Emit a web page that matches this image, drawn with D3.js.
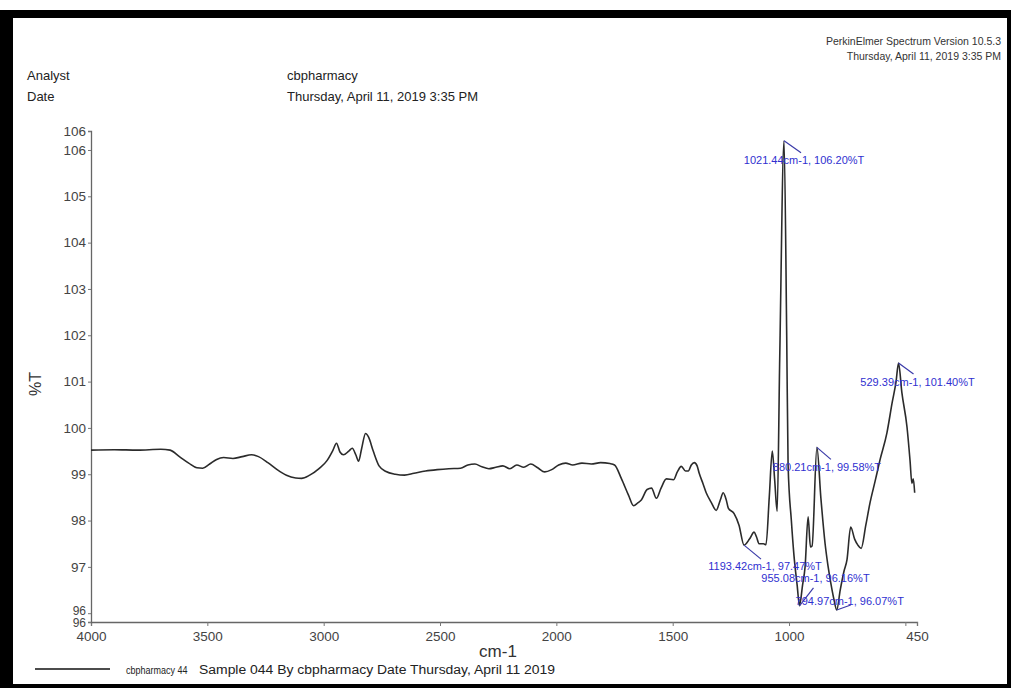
<!DOCTYPE html>
<html>
<head>
<meta charset="utf-8">
<script src="https://d3js.org/d3.v7.min.js"></script>
<style>
	body { margin: 0; background: #fff; }
	svg { display: block; font-family: "Liberation Sans", Arial, sans-serif; }
</style>
</head>
<body>
<script>

// Spectrum: wavenumber (cm-1) and transmittance (%T)
var wavenumbers = [4000, 3900, 3800, 3700, 3660, 3620, 3580, 3545, 3520, 3490, 3460, 3430, 3390, 3350, 3310, 3280,
	3240, 3200, 3160, 3120, 3095, 3060, 3020, 2985, 2960, 2945, 2930, 2915, 2892, 2877, 2862, 2850, 2837, 2820, 2807,
	2787, 2762, 2732, 2692, 2652, 2612, 2562, 2512, 2462, 2412, 2380, 2350, 2320, 2290, 2260, 2230, 2200, 2170, 2140,
	2110, 2080, 2050, 2020, 1990, 1960, 1930, 1890, 1850, 1810, 1770, 1750, 1720, 1690, 1668, 1650, 1634, 1610, 1591,
	1570, 1550, 1527, 1497, 1480, 1463, 1445, 1433, 1420, 1407, 1395, 1386, 1370, 1356, 1335, 1313, 1295, 1283, 1270,
	1261, 1236, 1215, 1193.42, 1170, 1150, 1140, 1129, 1110, 1099, 1085, 1072, 1062, 1051, 1040, 1021.44, 1010, 1004,
	990, 979, 965, 955.08, 942, 931, 918, 908, 901, 880.21, 863, 845, 833, 815, 807, 794.97, 780, 764, 751, 735, 718,
	704, 690, 670, 652, 630, 609, 579, 557, 540, 529.39, 515, 493, 480, 472, 466, 460];
var transmittance = [99.52, 99.53, 99.52, 99.54, 99.52, 99.38, 99.24, 99.14, 99.13, 99.22, 99.32, 99.36, 99.34, 99.38,
	99.42, 99.38, 99.25, 99.1, 98.98, 98.92, 98.91, 98.98, 99.12, 99.3, 99.52, 99.67, 99.48, 99.42, 99.5, 99.56, 99.42,
	99.28, 99.55, 99.88, 99.8, 99.5, 99.18, 99.06, 99.0, 98.98, 99.02, 99.07, 99.1, 99.12, 99.13, 99.2, 99.22, 99.16,
	99.12, 99.15, 99.18, 99.12, 99.2, 99.15, 99.22, 99.14, 99.05, 99.1, 99.2, 99.24, 99.2, 99.24, 99.22, 99.25, 99.23,
	99.2, 98.9, 98.55, 98.32, 98.38, 98.45, 98.67, 98.7, 98.48, 98.7, 98.9, 98.88, 99.05, 99.17, 99.07, 99.07, 99.2,
	99.25, 99.18, 99.02, 98.8, 98.6, 98.4, 98.22, 98.45, 98.6, 98.45, 98.27, 98.15, 97.9, 97.47, 97.6, 97.75, 97.65,
	97.5, 97.5, 97.48, 98.5, 99.5, 98.9, 98.2, 101.5, 106.2, 102.0, 99.2, 98.0, 97.26, 96.6, 96.16, 96.6, 97.0, 98.08,
	97.43, 97.45, 99.58, 98.48, 97.5, 97.04, 96.5, 96.3, 96.07, 96.5, 96.9, 97.15, 97.86, 97.6, 97.47, 97.4, 97.9,
	98.38, 98.85, 99.31, 99.9, 100.54, 101.0, 101.4, 100.76, 100.02, 99.3, 98.8, 98.9, 98.6];

// Peak picks printed on the chart
var peakWavenumbers = [1021.44, 529.39, 880.21, 1193.42, 955.08, 794.97];
var peakTransmittance = [106.20, 101.40, 99.58, 97.47, 96.16, 96.07];

// Axes
var xDomain = [4000, 450];
var yDomain = [95.81, 106.41];
var xTickValues = [4000, 3500, 3000, 2500, 2000, 1500, 1000, 500, 450];
var xTickLabels = ["4000", "3500", "3000", "2500", "2000", "1500", "1000", "", "450"];
var yTickValues = [95.81, 96, 97, 98, 99, 100, 101, 102, 103, 104, 105, 106, 106.41];
var yTickLabels = ["96", "96", "97", "98", "99", "100", "101", "102", "103", "104", "105", "106", "106"];

// Header and footer texts
var headerKeys = ["Analyst", "Date"];
var headerValues = ["cbpharmacy", "Thursday, April 11, 2019 3:35 PM"];
var softwareLines = ["PerkinElmer Spectrum Version 10.5.3", "Thursday, April 11, 2019 3:35 PM"];
var legendName = "cbpharmacy 44";
var legendInfo = "Sample 044 By cbpharmacy Date Thursday, April 11 2019";

var width = 1011,
	height = 688;

var svg = d3.select("body").append("svg")
	.attr("width", width)
	.attr("height", height);

// black scan frame
svg.append("rect").attr("x", 0).attr("y", 10).attr("width", width).attr("height", height - 10).attr("fill", "#000");
svg.append("rect").attr("x", 13).attr("y", 18).attr("width", width - 17).attr("height", height - 22).attr("fill", "#fff");

var xScale = d3.scaleLinear().domain(xDomain).range([91, 917]);
var yScale = d3.scaleLinear().domain(yDomain).range([622, 131]);

// header block
svg.selectAll(".hkey").data(headerKeys).enter().append("text")
	.attr("x", 27).attr("y", function(d, i) { return 80 + i * 21; })
	.attr("font-size", "13px").attr("fill", "#222")
	.text(function(d) { return d; });
svg.selectAll(".hval").data(headerValues).enter().append("text")
	.attr("x", 287).attr("y", function(d, i) { return 80 + i * 21; })
	.attr("font-size", "13px").attr("fill", "#222")
	.text(function(d) { return d; });
svg.selectAll(".soft").data(softwareLines).enter().append("text")
	.attr("x", 1001).attr("y", function(d, i) { return 45 + i * 14.5; })
	.attr("text-anchor", "end")
	.attr("font-size", "10.5px").attr("fill", "#333")
	.text(function(d) { return d; });

// axes
var xAxis = d3.axisBottom(xScale)
	.tickValues(xTickValues)
	.tickSize(4)
	.tickFormat(function(d, i) { return xTickLabels[i]; });
var yAxis = d3.axisLeft(yScale)
	.tickValues(yTickValues)
	.tickSize(3)
	.tickPadding(2)
	.tickFormat(function(d, i) { return yTickLabels[i]; });

var gx = svg.append("g")
	.attr("class", "axis xAxis")
	.attr("transform", "translate(0,622)")
	.call(xAxis);
var gy = svg.append("g")
	.attr("class", "axis yAxis")
	.attr("transform", "translate(91,0)")
	.call(yAxis);

[gx, gy].forEach(function(g) {
	g.select(".domain").attr("stroke", "#666").attr("stroke-width", 1.3);
	g.selectAll(".tick line").attr("stroke", "#777");
	g.selectAll(".tick text").attr("fill", "#444").attr("font-size", "13.5px")
		.attr("font-family", "'Liberation Sans', Arial, sans-serif");
});
gx.selectAll(".tick text").attr("dy", "0.9em");
// the two crowded "96" labels at the bottom end of the axis
gy.selectAll(".tick text")
	.attr("font-size", function(d, i) { return i < 2 ? "12px" : "13.5px"; })
	.attr("y", function(d, i) { return i === 0 ? 1 : (i === 1 ? -3 : 0); });

// axis titles
svg.append("text")
	.attr("x", 498).attr("y", 657)
	.attr("text-anchor", "middle")
	.attr("font-size", "17px").attr("fill", "#333")
	.text("cm-1");
svg.append("text")
	.attr("transform", "translate(41,384) rotate(-90)")
	.attr("text-anchor", "middle")
	.attr("font-size", "16px").attr("fill", "#333")
	.text("%T");

// spectrum
var points = wavenumbers.map(function(w, i) { return [w, transmittance[i]]; });
var line = d3.line()
	.x(function(d) { return xScale(d[0]); })
	.y(function(d) { return yScale(d[1]); })
	.curve(d3.curveMonotoneX);

svg.append("path")
	.datum(points)
	.attr("d", line)
	.attr("fill", "none")
	.attr("stroke", "#2b2b2b")
	.attr("stroke-width", 1.6)
	.attr("stroke-linejoin", "round");

// peak labels: leader offset and text offset from each peak
var leaderOffsets = [[17, 12], [15, 11], [14, 12], [17, 14], [14, -18], [14, -5]];
var textOffsets = [[20, 23], [19, 23], [10, 24], [21, 25], [16, -24], [13, -5]];

var peaks = svg.selectAll(".peak")
	.data(peakWavenumbers)
	.enter()
	.append("g")
	.attr("class", "peak")
	.attr("transform", function(d, i) {
		return "translate(" + xScale(d) + "," + yScale(peakTransmittance[i]) + ")";
	});
peaks.append("line")
	.attr("x1", 0).attr("y1", 0)
	.attr("x2", function(d, i) { return leaderOffsets[i][0]; })
	.attr("y2", function(d, i) { return leaderOffsets[i][1]; })
	.attr("stroke", "#3a3aa8").attr("stroke-width", 1.2);
peaks.append("text")
	.attr("x", function(d, i) { return textOffsets[i][0]; })
	.attr("y", function(d, i) { return textOffsets[i][1]; })
	.attr("text-anchor", "middle")
	.attr("font-size", "11px")
	.attr("fill", "#3030d0")
	.text(function(d, i) {
		return d.toFixed(2) + "cm-1, " + peakTransmittance[i].toFixed(2) + "%T";
	});

// legend (the sample name is printed narrow on the original)
svg.append("line")
	.attr("x1", 35).attr("x2", 110).attr("y1", 669).attr("y2", 669)
	.attr("stroke", "#111").attr("stroke-width", 1.6);
svg.append("text")
	.attr("transform", "translate(126,674) scale(1,1.3)")
	.attr("font-size", "9px").attr("fill", "#222")
	.text(legendName);
svg.append("text")
	.attr("x", 199).attr("y", 674)
	.attr("font-size", "12.5px").attr("fill", "#222")
	.attr("textLength", 356).attr("lengthAdjust", "spacingAndGlyphs")
	.text(legendInfo);

</script>
</body>
</html>
